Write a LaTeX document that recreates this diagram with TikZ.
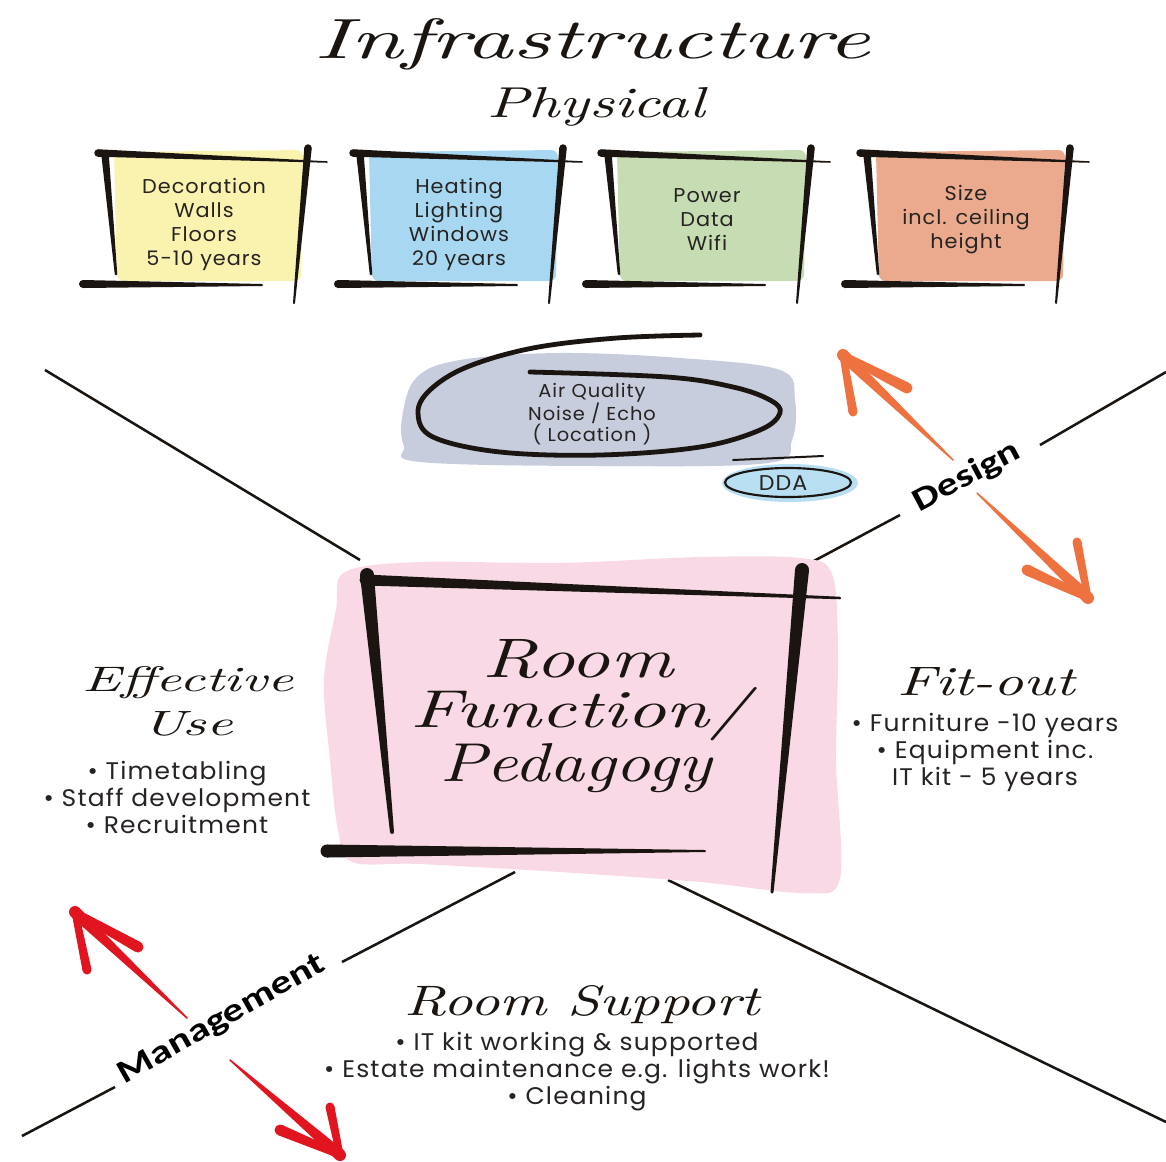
\documentclass[tikz,border=0pt]{standalone}
\usepackage{fontspec}
\usepackage{graphicx}
\usetikzlibrary{calc}
\newfontfamily\sansf[LetterSpace=5.0,FakeStretch=1.04]{Poppins}
\newfontfamily\labf{Carlito}
\definecolor{ink}{HTML}{1A1511}
\definecolor{txt}{HTML}{262322}
\definecolor{cyel}{HTML}{FAF3B0}
\definecolor{cblue}{HTML}{A8D8F1}
\definecolor{cgreen}{HTML}{C6DDB3}
\definecolor{csal}{HTML}{EBAA8D}
\definecolor{cgrey}{HTML}{C7CDDC}
\definecolor{cdda}{HTML}{B8DEF2}
\definecolor{cpink}{HTML}{F8D9E5}
\definecolor{corange}{HTML}{EE7240}
\definecolor{cred}{HTML}{E11520}
% tapered brush stroke: colour, start, end, start width (px), end width (px)
\newcommand\brush[5]{%
  \fill[#1] ($#2!#4*0.375pt!90:#3$) -- ($#3!#5*0.375pt!-90:#2$) -- ($#3!#5*0.375pt!90:#2$) -- ($#2!#4*0.375pt!-90:#3$) -- cycle;
  \fill[#1] #2 circle[radius=#4*0.375pt];
  \fill[#1] #3 circle[radius=#5*0.375pt];
}
\newcommand\hw[3]{\resizebox{#1pt}{#2pt}{\itshape #3}}
\newcommand\physbox[5]{%
\begin{scope}[xshift=#1*0.75pt]
  \fill[#2, rounded corners=5pt] (114,152) -- (303,150) -- (301,281) -- (117,281) -- cycle;
  \coordinate (#3ta) at (98,153); \coordinate (#3tb) at (327,162);
  \coordinate (#3la) at (105,154); \coordinate (#3lb) at (116,274);
  \coordinate (#3ra) at (308,148); \coordinate (#3rb) at (294,303);
  \coordinate (#3ba) at (83,284); \coordinate (#3bb) at (262,285);
  \brush{ink}{(#3ta)}{(#3tb)}{7.5}{1.5}
  \brush{ink}{(#3la)}{(#3lb)}{7.5}{2.5}
  \brush{ink}{(#3ra)}{(#3rb)}{7.5}{2}
  \brush{ink}{(#3ba)}{(#3bb)}{8}{2}
  \node[boxtext] (#3) at (204,#5) {#4};
\end{scope}}
\begin{document}
\begin{tikzpicture}[x=0.75pt,y=-0.75pt,
  boxtext/.style={font=\sansf\fontsize{15}{18}\selectfont, align=center, text=txt, inner sep=0pt},
  smalltext/.style={font=\sansf\fontsize{14}{15.75}\selectfont, align=center, text=txt, inner sep=0pt},
  bullets/.style={font=\sansf\fontsize{18}{20.25}\selectfont, align=center, text=txt, inner sep=0pt},
  hand/.style={anchor=base, inner sep=0pt, text=ink},
  axisline/.style={line width=1.9pt, draw=ink},
  axislabel/.style={font=\labf\bfseries\fontsize{24.5}{24.5}\selectfont, inner sep=0pt, text=black},
]
\useasboundingbox (0,0) rectangle (1166,1161);
\fill[white] (0,0) rectangle (1166,1161);

% titles
\node[hand] (title) at (592,58) {\hw{416.25}{30}{Infrastructure}};
\node[hand] (physical) at (596,117) {\hw{162.75}{22.5}{Physical}};

% physical boxes
\physbox{0}{cyel}{deco}{Decoration\\Walls\\Floors\\5-10 years}{224}
\physbox{255}{cblue}{heat}{Heating\\Lighting\\Windows\\20 years}{224}
\physbox{503}{cgreen}{power}{Power\\Data\\Wifi}{219.5}
\physbox{762}{csal}{size}{Size\\incl. ceiling\\height}{220}

% air quality blob
\fill[cgrey] plot[smooth cycle, tension=0.6] coordinates {(402,418) (416,378) (460,360) (560,353) (680,358) (780,370) (795,400) (792,440) (768,463) (600,466) (420,462) (404,446)};
\draw[ink, line width=3.6pt, line cap=round] plot[smooth, tension=0.6] coordinates {(530,372) (667,377) (733,387) (770,400) (780,413) (760,430) (700,447) (600,455) (500,452) (433,437) (418,413) (430,390) (467,367) (533,348) (617,338) (700,335)};
\node[smalltext] (airq) at (592,414) {Air Quality\\Noise / Echo\\( Location )};

% DDA
\fill[cdda] (790,483) ellipse[x radius=68, y radius=19];
\draw[ink, line width=1.6pt] (788,482.5) ellipse[x radius=63, y radius=14.5];
\coordinate (ddaA) at (733,460); \coordinate (ddaB) at (823,456);
\draw[ink, line width=1.5pt, line cap=round] (ddaA) -- (ddaB);
\node[font=\sansf\fontsize{16}{16}\selectfont, text=txt, inner sep=0pt] (dda) at (783,483) {DDA};

% diagonal axes
\coordinate (tl1) at (45,370); \coordinate (tl2) at (360,560);
\coordinate (tr1) at (1166,372); \coordinate (tr2) at (1040,445);
\coordinate (tr3) at (900,515); \coordinate (tr4) at (812,562);
\coordinate (bl1) at (22,1136); \coordinate (bl2) at (115,1087);
\coordinate (bl3) at (342,962); \coordinate (bl4) at (515,872);
\coordinate (br1) at (668,880); \coordinate (br2) at (1166,1122);
\draw[axisline] (tl1) -- (tl2);
\draw[axisline] (tr1) -- (tr2);
\draw[axisline] (tr3) -- (tr4);
\draw[axisline] (bl1) -- (bl2);
\draw[axisline] (bl3) -- (bl4);
\draw[axisline] (br1) -- (br2);
\node[axislabel, rotate=28] (design) at (967,477) {\scalebox{1.28}[1]{Design}};
\node[axislabel, rotate=29.5] (mgmt) at (222,1020) {\scalebox{1.28}[1]{Management}};

% design arrows
\coordinate (dA) at (953,460); \coordinate (dAt) at (843,355);
\coordinate (dAb1) at (853,412); \coordinate (dAb2) at (907,388);
\brush{corange}{(dA)}{(dAt)}{1.5}{12}
\brush{corange}{(dAt)}{(dAb1)}{7}{9}
\brush{corange}{(dAt)}{(dAb2)}{7}{11}
\coordinate (dB) at (977,493); \coordinate (dBt) at (1088,598);
\coordinate (dBb1) at (1077,542); \coordinate (dBb2) at (1027,570);
\brush{corange}{(dB)}{(dBt)}{1.5}{12}
\brush{corange}{(dBt)}{(dBb1)}{7}{9}
\brush{corange}{(dBt)}{(dBb2)}{7}{11}

% management arrows
\coordinate (mA) at (187,1018); \coordinate (mAt) at (75,912);
\coordinate (mAb1) at (87,970); \coordinate (mAb2) at (138,947);
\brush{cred}{(mA)}{(mAt)}{1.5}{12}
\brush{cred}{(mAt)}{(mAb1)}{7}{9}
\brush{cred}{(mAt)}{(mAb2)}{7}{11}
\coordinate (mB) at (230,1060); \coordinate (mBt) at (340,1155);
\coordinate (mBb1) at (330,1107); \coordinate (mBb2) at (280,1130);
\brush{cred}{(mB)}{(mBt)}{1.5}{12}
\brush{cred}{(mBt)}{(mBb1)}{7}{9}
\brush{cred}{(mBt)}{(mBb2)}{7}{11}

% central room box
\fill[cpink] plot[smooth cycle, tension=0.55] coordinates {(345,572) (420,562) (560,563) (700,557) (800,558) (832,574) (838,650) (836,760) (840,878) (805,893) (700,882) (560,872) (420,864) (352,862) (338,830) (330,760) (324,680) (336,610)};
\coordinate (rla) at (367,575); \coordinate (rlb) at (392,832);
\coordinate (rta) at (365,580); \coordinate (rtb) at (840,598);
\coordinate (rra) at (802,570); \coordinate (rrb) at (772,892);
\coordinate (rba) at (327,851); \coordinate (rbb) at (705,851);
\brush{ink}{(rla)}{(rlb)}{14}{4}
\brush{ink}{(rta)}{(rtb)}{11}{2.5}
\brush{ink}{(rra)}{(rrb)}{14}{3}
\brush{ink}{(rba)}{(rbb)}{13}{2}
\node[hand] (room) at (578,677) {\hw{142.5}{28.5}{Room}};
\node[hand] (function) at (580,727) {\hw{253.5}{30}{Function/}};
\node[hand] (pedagogy) at (576,781) {\hw{204}{28.5}{Pedagogy}};

% effective use
\node[hand] (effective) at (188,691) {\hw{157.5}{18.75}{Effective}};
\node[hand] (use) at (188,735) {\hw{67.5}{18}{Use}};
\node[bullets] (effbul) at (177,797) {• Timetabling\\• Staff development\\• Recruitment};

% fit-out
\node[hand] (fitout) at (986,695) {\hw{133.5}{21}{Fit-out}};
\node[bullets] (fitbul) at (985,752) {• Furniture -10 years\\• Equipment inc.\\IT kit - 5 years};

% room support
\node[hand] (support) at (582,1015) {\hw{266.25}{22.5}{Room Support}};
\node[bullets] (supbul) at (577,1072) {• IT kit working \& supported\\• Estate maintenance e.g. lights work!\\• Cleaning};
\end{tikzpicture}
\end{document}
